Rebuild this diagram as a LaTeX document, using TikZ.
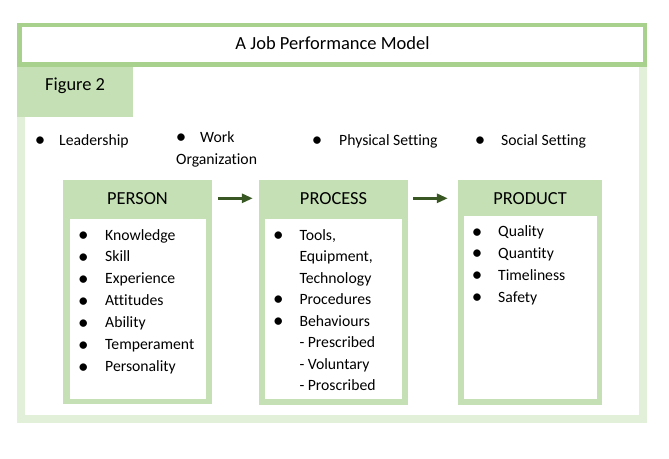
\documentclass[tikz,border=0pt]{standalone}
\usepackage{fontspec}
\setmainfont{Carlito}[Ligatures=NoCommon]
\usetikzlibrary{arrows.meta}
\definecolor{boxgreen}{HTML}{C5E0B4}
\definecolor{titlegreen}{HTML}{A9D18E}
\definecolor{framegreen}{HTML}{E2EFD9}
\definecolor{arrowgreen}{HTML}{385723}
\begin{document}
\begin{tikzpicture}[x=1pt,y=-1pt,
  bodyfont/.style={font=\fontsize{15.7}{18}\selectfont},
  txt/.style={bodyfont, inner sep=0pt, anchor=base west},
  bul/.style={font=\fontsize{21}{24}\selectfont, inner sep=0pt, anchor=base, yshift=-1.3pt},
  hdr/.style={font=\fontsize{18.4}{22}\selectfont, inner sep=0pt, text height=11.85pt, text depth=0pt},
  outerbox/.style={fill=boxgreen, draw=none, inner sep=0pt, anchor=north west},
  innerbox/.style={fill=white, draw=none, inner sep=0pt, anchor=north west},
  frameline/.style={draw=framegreen, line width=8pt},
  titleline/.style={draw=titlegreen, fill=white, line width=4.6pt},
  arr/.style={draw=arrowgreen, line width=3.2pt, -{Triangle[length=11pt,width=9pt]}}
]
\useasboundingbox (0,0) rectangle (669,458);
% frames
\draw[frameline] (21,63) rectangle (643,419);
\fill[boxgreen] (17,66) rectangle (133,117);
\draw[titleline] (19.3,25) rectangle (645,64.2);
\node[font=\fontsize{18.5}{22}\selectfont, inner sep=0pt, anchor=base] (title) at (332.5,49.3) {A Job Performance Model};
\node[font=\fontsize{18.4}{22}\selectfont, inner sep=0pt, anchor=base west] (fig) at (45,90) {Figure 2};
% top row
\node[bul] (b1) at (40,145) {\textbullet};
\node[txt] (lead) at (59,145) {Leadership};
\node[bul] (b2) at (181,142) {\textbullet};
\node[txt] (work) at (200,142) {Work};
\node[txt] (org) at (176,164) {Organization};
\node[bul] (b3) at (317,145) {\textbullet};
\node[txt] (phys) at (339,145) {Physical Setting};
\node[bul] (b4) at (480,145) {\textbullet};
\node[txt] (soc) at (501,145) {Social Setting};
% boxes
\node[outerbox, minimum width=149pt, minimum height=223.5pt] (person) at (63,180) {};
\node[innerbox, minimum width=136pt, minimum height=179.5pt] (personi) at (70,219) {};
\node[outerbox, minimum width=149pt, minimum height=224.5pt] (process) at (259,180) {};
\node[innerbox, minimum width=137pt, minimum height=180pt] (processi) at (265,219) {};
\node[outerbox, minimum width=144pt, minimum height=224.5pt] (product) at (458,180) {};
\node[innerbox, minimum width=133pt, minimum height=183pt] (producti) at (464,216) {};
% headers
\node[hdr, minimum width=149pt] (personh) at (137.5,198.3) {PERSON};
\node[hdr, minimum width=149pt] (processh) at (333.5,198.3) {PROCESS};
\node[hdr, minimum width=144pt] (producth) at (530,198.3) {PRODUCT};
% arrows
\draw[arr, shorten <=6pt, shorten >=6pt] (personh.east) -- (processh.west);
\draw[arr, shorten <=5pt, shorten >=10pt] (processh.east) -- (producth.west);
% person list
\foreach \t [count=\i] in {Knowledge,Skill,Experience,Attitudes,Ability,Temperament,Personality} {
  \node[txt] (pe\i) at (105,{240+(\i-1)*21.95}) {\t};
  \node[bul] (peb\i) at (83.3,{240+(\i-1)*21.95}) {\textbullet};
}
% process list
\foreach \t [count=\i] in {{Tools,},{Equipment,},Technology,Procedures,Behaviours,- Prescribed,- Voluntary,- Proscribed} {
  \node[txt] (pr\i) at (299.3,{240+(\i-1)*21.55}) {\t};
}
\node[bul] (prb1) at (278.3,240) {\textbullet};
\node[bul] (prb4) at (278.3,{240+3*21.55}) {\textbullet};
\node[bul] (prb5) at (278.3,{240+4*21.55}) {\textbullet};
% product list
\foreach \t [count=\i] in {Quality,Quantity,Timeliness,Safety} {
  \node[txt] (pd\i) at (498,{236.7+(\i-1)*21.8}) {\t};
  \node[bul] (pdb\i) at (477,{236.7+(\i-1)*21.8}) {\textbullet};
}
\end{tikzpicture}
\end{document}
